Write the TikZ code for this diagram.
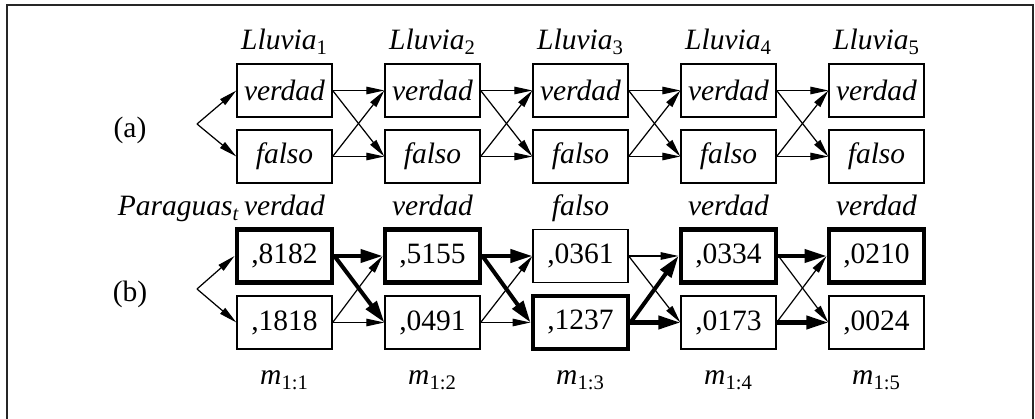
\documentclass[tikz,border=0pt]{standalone}
\usepackage{fontspec}
\setmainfont{Liberation Serif}
\usetikzlibrary{arrows.meta}

\newcommand*{\xone}{284.5}
\newcommand*{\xtwo}{432.5}
\newcommand*{\xthree}{580.5}
\newcommand*{\xfour}{728.5}
\newcommand*{\xfive}{876.5}
\newcommand*{\yat}{328.5}
\newcommand*{\yaf}{262.5}
\newcommand*{\ybt}{163}
\newcommand*{\ybf}{96.5}

\begin{document}
\begin{tikzpicture}
[
	x=0.02cm,y=0.02cm,
	font=\fontsize{16.8}{20}\selectfont,
	state/.style={draw,line width=0.75pt,minimum width=1.9cm,minimum height=1.06cm,inner sep=0pt},
	best/.style={state,line width=2.8pt},
	arr/.style={-{Triangle[length=0.36cm,width=0.15cm]},line width=0.7pt},
	bestarr/.style={-{Triangle[length=0.44cm,width=0.26cm]},line width=2.3pt},
	heading/.style={anchor=base,inner sep=0pt}
]

	\useasboundingbox (0,0) rectangle (1035,419);

	% frame
	\draw[line width=0.85pt,black!85] (7,-5) -- (7,414) -- (1033,414) -- (1033,-5);

	% (a) states
	\node[state] at (\xone,\yat) (r1t) {\textit{verdad}};
	\node[state] at (\xone,\yaf) (r1f) {\textit{falso}};
	\node[state] at (\xtwo,\yat) (r2t) {\textit{verdad}};
	\node[state] at (\xtwo,\yaf) (r2f) {\textit{falso}};
	\node[state] at (\xthree,\yat) (r3t) {\textit{verdad}};
	\node[state] at (\xthree,\yaf) (r3f) {\textit{falso}};
	\node[state] at (\xfour,\yat) (r4t) {\textit{verdad}};
	\node[state] at (\xfour,\yaf) (r4f) {\textit{falso}};
	\node[state] at (\xfive,\yat) (r5t) {\textit{verdad}};
	\node[state] at (\xfive,\yaf) (r5f) {\textit{falso}};

	\node[heading] at (\xone,369) (lluvia1) {\textit{Lluvia}\textsubscript{1}};
	\node[heading] at (\xtwo,369) (lluvia2) {\textit{Lluvia}\textsubscript{2}};
	\node[heading] at (\xthree,369) (lluvia3) {\textit{Lluvia}\textsubscript{3}};
	\node[heading] at (\xfour,369) (lluvia4) {\textit{Lluvia}\textsubscript{4}};
	\node[heading] at (\xfive,369) (lluvia5) {\textit{Lluvia}\textsubscript{5}};
	\node[heading] at (130,281) (parta) {(a)};

	% (b) messages
	\node[best] at (\xone,\ybt) (m1t) {,8182};
	\node[state] at (\xone,\ybf) (m1f) {,1818};
	\node[best] at (\xtwo,\ybt) (m2t) {,5155};
	\node[state] at (\xtwo,\ybf) (m2f) {,0491};
	\node[state] at (\xthree,\ybt) (m3t) {,0361};
	\node[best] at (\xthree,\ybf) (m3f) {,1237};
	\node[best] at (\xfour,\ybt) (m4t) {,0334};
	\node[state] at (\xfour,\ybf) (m4f) {,0173};
	\node[best] at (\xfive,\ybt) (m5t) {,0210};
	\node[state] at (\xfive,\ybf) (m5f) {,0024};

	\node[heading] at (\xone,203) (obs1) {\textit{verdad}};
	\node[heading] at (\xtwo,203) (obs2) {\textit{verdad}};
	\node[heading] at (\xthree,203) (obs3) {\textit{falso}};
	\node[heading] at (\xfour,203) (obs4) {\textit{verdad}};
	\node[heading] at (\xfive,203) (obs5) {\textit{verdad}};
	\node[heading,anchor=base east] at (240,203) (paraguas) {\textit{Paraguas}\textsubscript{\textit{t}}};
	\node[heading] at (130,117) (partb) {(b)};

	\node[heading] at (\xone,34) (msg1) {\textit{m}\textsubscript{1:1}};
	\node[heading] at (\xtwo,34) (msg2) {\textit{m}\textsubscript{1:2}};
	\node[heading] at (\xthree,34) (msg3) {\textit{m}\textsubscript{1:3}};
	\node[heading] at (\xfour,34) (msg4) {\textit{m}\textsubscript{1:4}};
	\node[heading] at (\xfive,34) (msg5) {\textit{m}\textsubscript{1:5}};

	% forks
	\coordinate (forka) at (197,295);
	\coordinate (forkb) at (197,130);
	\draw[arr] (forka) -- (r1t.west);
	\draw[arr] (forka) -- (r1f.west);
	\draw[arr] (forkb) -- (m1t.west);
	\draw[arr] (forkb) -- (m1f.west);

	% transitions (a)
	\draw[arr] (r1t.east) -- (r2t.west);
	\draw[arr] (r1t.east) -- (r2f.west);
	\draw[arr] (r1f.east) -- (r2t.west);
	\draw[arr] (r1f.east) -- (r2f.west);
	\draw[arr] (r2t.east) -- (r3t.west);
	\draw[arr] (r2t.east) -- (r3f.west);
	\draw[arr] (r2f.east) -- (r3t.west);
	\draw[arr] (r2f.east) -- (r3f.west);
	\draw[arr] (r3t.east) -- (r4t.west);
	\draw[arr] (r3t.east) -- (r4f.west);
	\draw[arr] (r3f.east) -- (r4t.west);
	\draw[arr] (r3f.east) -- (r4f.west);
	\draw[arr] (r4t.east) -- (r5t.west);
	\draw[arr] (r4t.east) -- (r5f.west);
	\draw[arr] (r4f.east) -- (r5t.west);
	\draw[arr] (r4f.east) -- (r5f.west);

	% transitions (b)
	\draw[arr] (m1f.east) -- (m2t.west);
	\draw[arr] (m1f.east) -- (m2f.west);
	\draw[bestarr] (m1t.east) -- (m2t.west);
	\draw[bestarr] (m1t.east) -- (m2f.west);
	\draw[arr] (m2f.east) -- (m3t.west);
	\draw[arr] (m2f.east) -- (m3f.west);
	\draw[bestarr] (m2t.east) -- (m3t.west);
	\draw[bestarr] (m2t.east) -- (m3f.west);
	\draw[arr] (m3t.east) -- (m4t.west);
	\draw[arr] (m3t.east) -- (m4f.west);
	\draw[bestarr] (m3f.east) -- (m4t.west);
	\draw[bestarr] (m3f.east) -- (m4f.west);
	\draw[arr] (m4t.east) -- (m5f.west);
	\draw[arr] (m4f.east) -- (m5t.west);
	\draw[bestarr] (m4t.east) -- (m5t.west);
	\draw[bestarr] (m4f.east) -- (m5f.west);

\end{tikzpicture}
\end{document}
